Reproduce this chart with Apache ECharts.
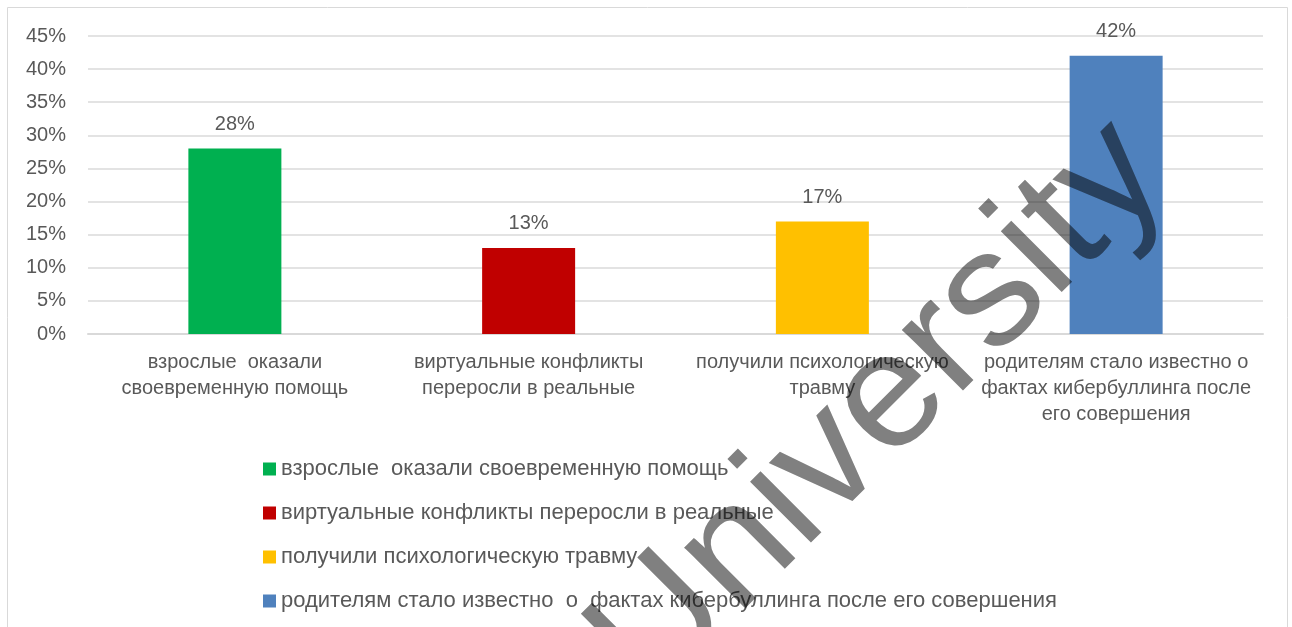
<!DOCTYPE html>
<html>
<head>
<meta charset="utf-8">
<script src="https://cdn.jsdelivr.net/npm/echarts@6/dist/echarts.min.js"></script>
<style>
  html, body { margin: 0; padding: 0; background: #fff; }
  .wrap { position: relative; width: 1292px; height: 627px; }
  #chart { width: 1292px; height: 627px; }
  /* водяной знак поверх диаграммы, смешивание как у оригинала */
  #mark { position: absolute; left: 0; top: 0; width: 1292px; height: 627px;
          mix-blend-mode: multiply; pointer-events: none; }
</style>
</head>
<body>
<div class="wrap">
  <div id="chart"></div>
  <div id="mark"></div>
</div>
<script>
// данные диаграммы
const categories = [
  "взрослые  оказали\nсвоевременную помощь",
  "виртуальные конфликты\nпереросли в реальные",
  "получили психологическую\nтравму",
  "родителям стало известно о\nфактах кибербуллинга после\nего совершения"
];
const legendNames = [
  "взрослые  оказали своевременную помощь",
  "виртуальные конфликты переросли в реальные",
  "получили психологическую травму",
  "родителям стало известно  о  фактах кибербуллинга после его совершения"
];
const values = [28, 13, 17, 42];
const colors = ["#00B050", "#C00000", "#FFC000", "#4F81BD"];
const yTicks = { min: 0, max: 45, interval: 5 };

const font = '"Liberation Sans", Arial, sans-serif';
const textColor = "#595959";

// одна серия на категорию, чтобы легенда показывала все четыре пункта
const series = legendNames.map((name, i) => ({
  name: name,
  type: "bar",
  stack: "all",
  barWidth: 93,
  data: values.map((v, j) => (j === i ? v : "-")),
  itemStyle: { color: colors[i] },
  label: {
    show: true,
    position: "top",
    distance: 14,
    formatter: "{c}%",
    color: textColor,
    fontFamily: font,
    fontSize: 20
  }
}));

const chart = echarts.init(document.getElementById("chart"));
chart.setOption({
  animation: false,
  color: colors,
  grid: { left: 88, right: 29, top: 36, bottom: 293 },
  xAxis: {
    type: "category",
    data: categories,
    axisLine: { lineStyle: { color: "#d9d9d9", width: 2 } },
    axisTick: { show: false },
    axisLabel: {
      interval: 0,
      margin: 15,
      color: textColor,
      fontFamily: font,
      fontSize: 20,
      lineHeight: 26
    }
  },
  yAxis: {
    type: "value",
    min: yTicks.min,
    max: yTicks.max,
    interval: yTicks.interval,
    axisLabel: {
      formatter: "{value}%",
      margin: 22,
      color: textColor,
      fontFamily: font,
      fontSize: 20
    },
    splitLine: { lineStyle: { color: "#e3e3e3", width: 2 } }
  },
  legend: {
    orient: "vertical",
    left: 258,
    top: 453,
    itemWidth: 13,
    itemHeight: 13,
    itemGap: 22,
    icon: "rect",
    data: legendNames,
    textStyle: { color: textColor, fontFamily: font, fontSize: 22 }
  },
  series: series,
  graphic: [
    {
      type: "rect",
      silent: true,
      shape: { x: 7.5, y: 7.5, width: 1280, height: 640 },
      style: { fill: "none", stroke: "#d9d9d9", lineWidth: 1 }
    }
  ]
});

// водяной знак
const mark = echarts.init(document.getElementById("mark"));
mark.setOption({
  animation: false,
  graphic: [
    {
      type: "text",
      silent: true,
      x: 880,
      y: 410,
      rotation: 0.785,
      scaleX: 1.03,
      style: {
        text: "University",
        font: '163px "Liberation Sans", Arial, sans-serif',
        fill: "#808080",
        align: "center",
        verticalAlign: "middle"
      }
    }
  ]
});
</script>
</body>
</html>
